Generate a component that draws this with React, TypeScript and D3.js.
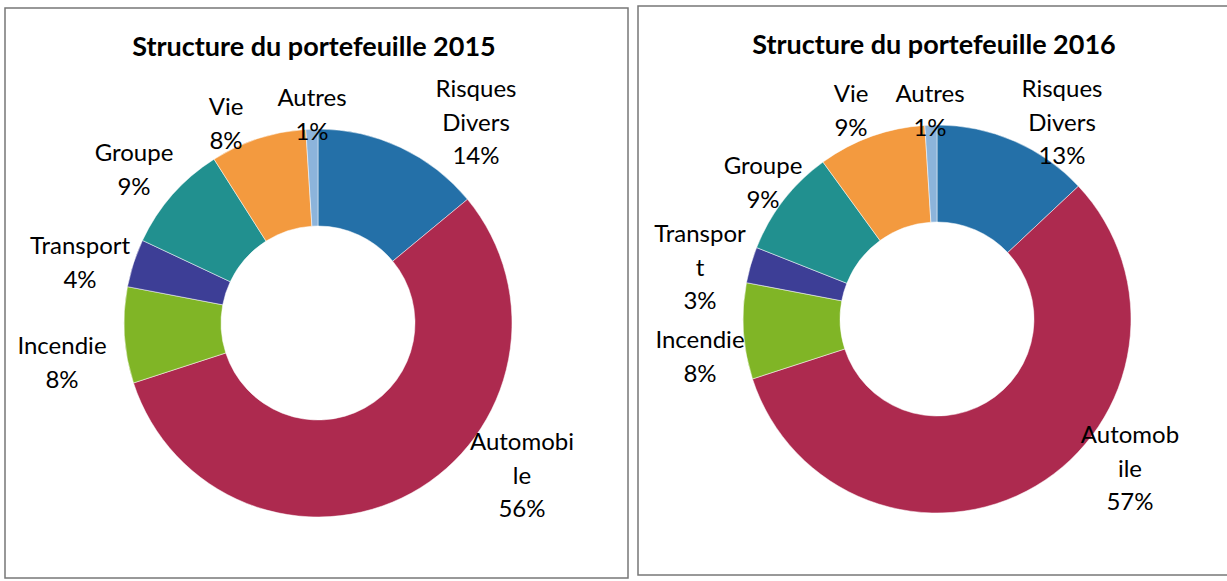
import React from "react";
import * as d3 from "d3";

const categories = ["Risques Divers", "Automobile", "Incendie", "Transport", "Groupe", "Vie", "Autres"];
const values2015 = [14, 56, 8, 4, 9, 8, 1];
const values2016 = [13, 57, 8, 3, 9, 9, 1];
const colors = ["#2470a8", "#ad2a4f", "#80b526", "#3d3e96", "#21908f", "#f39a3f", "#8cb4db"];
const titles = ["Structure du portefeuille 2015", "Structure du portefeuille 2016"];

// label text lines (wrapped as in the original) per chart
const labelLines2015 = [
  ["Risques", "Divers"], ["Automobi", "le"], ["Incendie"], ["Transport"], ["Groupe"], ["Vie"], ["Autres"],
];
const labelLines2016 = [
  ["Risques", "Divers"], ["Automob", "ile"], ["Incendie"], ["Transpor", "t"], ["Groupe"], ["Vie"], ["Autres"],
];

// layout (positions of label blocks: center x, first line center y)
const labelPos2015 = [
  [476, 89], [522, 442], [62, 346], [80, 246], [134, 153], [226, 107], [312, 98],
];
const labelPos2016 = [
  [1062, 89], [1130, 435], [700, 340], [700, 234], [763, 166], [851, 94], [930, 94],
];

const LINE = 33.5;
const FONT = "Lato, 'Open Sans', sans-serif";

function Donut({ values, cx, cy, labelLines, labelPos }: any) {
  const pie = d3.pie<number>().sort(null).value((d) => d);
  const arcs = pie(values);
  const arc = d3.arc<d3.PieArcDatum<number>>().innerRadius(97).outerRadius(194);
  const fmt = d3.format(".0%");
  return (
    <g>
      <g transform={`translate(${cx},${cy})`}>
        {arcs.map((a, i) => (
          <path key={i} d={arc(a) || ""} fill={colors[i]} stroke="#ffffff" strokeWidth={0.5} />
        ))}
      </g>
      {arcs.map((a, i) => {
        const lines = [...labelLines[i], fmt(values[i] / 100)];
        const [lx, ly] = labelPos[i];
        return (
          <text key={"l" + i} x={lx} y={ly} textAnchor="middle" fontFamily={FONT} fontSize={24} fill="#000">
            {lines.map((t: string, j: number) => (
              <tspan key={j} x={lx} y={ly + j * LINE} dy="0.35em">{t}</tspan>
            ))}
          </text>
        );
      })}
    </g>
  );
}

export default function App() {
  return (
    <svg width={1227} height={581} style={{ position: "absolute", left: 0, top: 0, background: "#fff" }}>
      <rect x={0} y={0} width={1227} height={581} fill="#fff" />
      <rect x={5} y={8} width={623} height={570} fill="#fff" stroke="#777" strokeWidth={1.5} />
      <rect x={638} y={6} width={600} height={569} fill="#fff" stroke="#777" strokeWidth={1.5} />
      <text x={314} y={47} dy="0.35em" textAnchor="middle" fontFamily={FONT} fontWeight="bold" fontSize={27} fill="#000">{titles[0]}</text>
      <text x={934} y={45} dy="0.35em" textAnchor="middle" fontFamily={FONT} fontWeight="bold" fontSize={27} fill="#000">{titles[1]}</text>
      <Donut values={values2015} cx={318} cy={323} labelLines={labelLines2015} labelPos={labelPos2015} />
      <Donut values={values2016} cx={937} cy={319} labelLines={labelLines2016} labelPos={labelPos2016} />
    </svg>
  );
}
